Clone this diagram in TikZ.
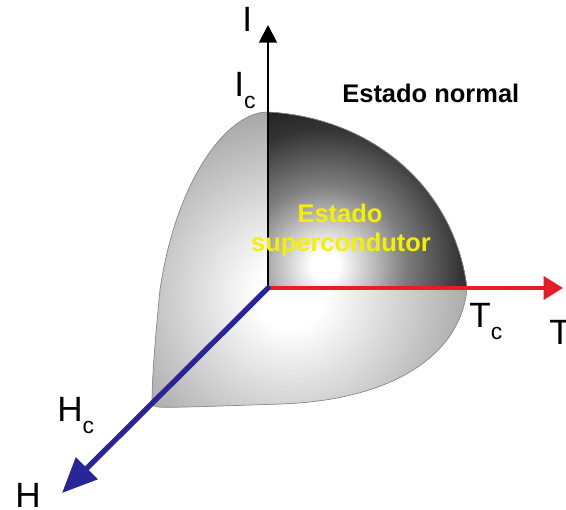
\documentclass[tikz,border=0pt]{standalone}
\usepackage{fontspec}
\setmainfont{Liberation Sans}
\usetikzlibrary{arrows.meta}
\definecolor{axblue}{RGB}{38,38,150}
\definecolor{axred}{RGB}{228,30,38}
\definecolor{txtyellow}{RGB}{245,240,0}
\pgfdeclareradialshading{lightdome}{\pgfpoint{0bp}{0bp}}{color(0bp)=(white); color(4bp)=(white); color(25bp)=(black!40); color(50bp)=(black!40)}
\pgfdeclareradialshading{darkdome}{\pgfpoint{0bp}{0bp}}{color(0bp)=(white); color(2bp)=(white); color(11bp)=(black!50); color(19bp)=(black!80); color(25bp)=(black!90); color(50bp)=(black!90)}
\tikzset{
  lbl/.style={inner sep=0pt, font=\fontsize{20}{20}\selectfont},
  bigtxt/.style={inner sep=0pt, font=\bfseries\fontsize{14.5}{14.5}\selectfont},
  edge/.style={draw=black!45, line width=0.4pt},
}
\newcommand{\mysub}[1]{\raisebox{-6.5pt}{\fontsize{13}{13}\selectfont #1}}
\begin{document}
\begin{tikzpicture}[x=0.02cm, y=-0.02cm]
\path[use as bounding box] (0,0) rectangle (566,510);
% key points
\coordinate (O) at (268,288);
\coordinate (A) at (268,112);
\coordinate (B) at (467,288);
\coordinate (C) at (152,403);
% whole surface, light shading
\begin{scope}
\clip (A) .. controls (375,118) and (455,190) .. (B)
      .. controls (462,350) and (400,400) .. (280,404)
      .. controls (220,406) and (170,408) .. (158,407)
      .. controls (153,406) and (152,405) .. (C)
      .. controls (152,380) and (155,340) .. (160,290)
      .. controls (175,185) and (225,112) .. (A) -- cycle;
\fill[black!40] (0,0) rectangle (566,510);
\shade[shading=lightdome] (290,295) circle (210);
\end{scope}
% dark upper-right face
\begin{scope}
\clip (O) -- (A) .. controls (375,118) and (455,190) .. (B) -- cycle;
\fill[black!90] (0,0) rectangle (566,510);
\shade[shading=darkdome] (325,265) circle (180);
\end{scope}
% outline
\draw[edge] (A) .. controls (375,118) and (455,190) .. (B)
      .. controls (462,350) and (400,400) .. (280,404)
      .. controls (220,406) and (170,408) .. (158,407)
      .. controls (153,406) and (152,405) .. (C)
      .. controls (152,380) and (155,340) .. (160,290)
      .. controls (175,185) and (225,112) .. (A);
% axes
\coordinate (Itip) at (268,25);
\coordinate (Ttip) at (563,288);
\coordinate (Htip) at (62,493);
\draw[line width=1.6pt, -{Triangle[length=10pt,width=10pt]}] (O) -- (Itip);
\draw[axred, line width=2.2pt, -{Triangle[length=11pt,width=13pt]}] (O) -- (Ttip);
\draw[axblue, line width=3pt, line cap=round, -{Triangle[length=20pt,width=17pt]}] (O) -- (Htip);
% labels
\node[lbl, anchor=base west] (Ilab) at (242,32) {I};
\node[lbl, anchor=base west] (Iclab) at (234,97) {I\mysub{c}};
\node[lbl, anchor=base west] (Tclab) at (469,328) {T\mysub{c}};
\node[lbl, anchor=base west] (Tlab) at (549,345) {T};
\node[lbl, anchor=base west] (Hclab) at (57,422) {H\mysub{c}};
\node[lbl, anchor=base west] (Hlab) at (15,508) {H};
\node[bigtxt, anchor=base west] (normal) at (342,103) {Estado normal};
\node[bigtxt, text=txtyellow, anchor=base] (sc1) at (340,223) {Estado};
\node[bigtxt, text=txtyellow, anchor=base] (sc2) at (341,252) {supercondutor};
\end{tikzpicture}
\end{document}
